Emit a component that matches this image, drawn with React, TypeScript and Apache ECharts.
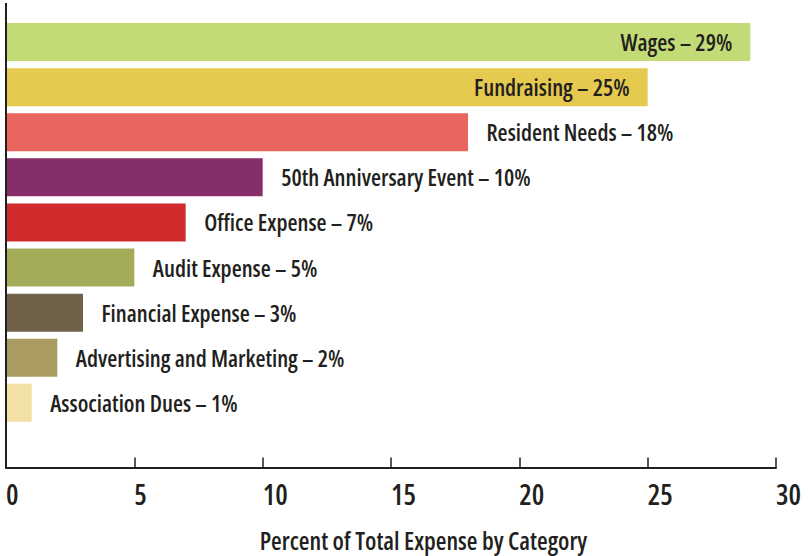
import React, { useEffect, useRef } from "react";
import * as echarts from "echarts";

const categories = [
  "Wages",
  "Fundraising",
  "Resident Needs",
  "50th Anniversary Event",
  "Office Expense",
  "Audit Expense",
  "Financial Expense",
  "Advertising and Marketing",
  "Association Dues",
  "",
];
const values = [29, 25, 18, 10, 7, 5, 3, 2, 1, null];
const colors = [
  "#c3db77",
  "#e6ca4f",
  "#e8665e",
  "#862e67",
  "#d02c2e",
  "#a4ab58",
  "#6f6248",
  "#aa9b63",
  "#f3e0a4",
  "#ffffff",
];
const xTicks = [0, 5, 10, 15, 20, 25, 30];
const axisTitle = "Percent of Total Expense by Category";

const FONT = "'Open Sans', sans-serif";
const INK = "#231f20";

export default function App() {
  const ref = useRef<HTMLDivElement>(null);
  useEffect(() => {
    document.body.style.margin = "0";
    if (!ref.current) return;
    const chart = echarts.init(ref.current, null, { renderer: "svg" });
    const data = values.map((v, i) => ({
      value: v,
      itemStyle: { color: colors[i] },
      label:
        v != null && v > 20
          ? { position: "insideRight", distance: 18 }
          : { position: "right", distance: 18.5 },
    }));
    chart.setOption({
      animation: false,
      grid: { left: 6, right: 32, top: 19.5, bottom: 85.5, containLabel: false, outerBoundsMode: "none" },
      xAxis: {
        type: "value",
        min: xTicks[0],
        max: xTicks[xTicks.length - 1],
        interval: 5,
        offset: -3,
        name: axisTitle,
        nameLocation: "middle",
        nameGap: 61,
        nameTextStyle: {
          fontFamily: FONT,
          fontWeight: 650,
          fontSize: 24.5,
          lineHeight: 24,
          color: INK,
          padding: [0, 0, 0, 65],
        },
        axisLine: { show: true, lineStyle: { color: INK, width: 2 } },
        axisTick: { show: true, inside: true, length: 10, lineStyle: { color: INK, width: 1.5 } },
        splitLine: { show: false },
        axisLabel: {
          align: "left",
          margin: 12,
          fontFamily: FONT,
          fontWeight: 600,
          fontSize: 28,
          color: INK,
        },
      },
      yAxis: {
        type: "category",
        inverse: true,
        data: categories,
        axisLine: { show: false },
        axisTick: { show: false },
        axisLabel: { show: false },
      },
      graphic: [
        {
          type: "line",
          shape: { x1: 6, y1: 3, x2: 6, y2: 468.5 },
          style: { stroke: INK, lineWidth: 2 },
          z: 10,
        },
      ],
      series: [
        {
          type: "bar",
          data,
          barWidth: 38,
          label: {
            show: true,
            fontFamily: FONT,
            fontWeight: 650,
            fontSize: 23,
            color: INK,
            formatter: (p: any) => `${p.name} – ${p.value}%`,
          },
        },
      ],
    });
    return () => chart.dispose();
  }, []);
  return (
    <>
      <style>{`svg text { font-stretch: 75% !important; }`}</style>
      <div ref={ref} style={{ width: 808, height: 556 }} />
    </>
  );
}
